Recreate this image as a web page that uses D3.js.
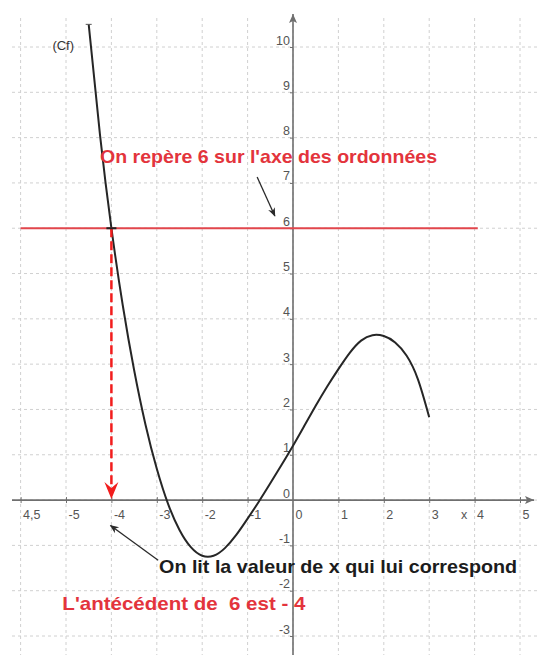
<!DOCTYPE html>
<html><head><meta charset="utf-8">
<script src="https://cdn.jsdelivr.net/npm/d3@7"></script>
<style>body{margin:0;background:#fff}svg{display:block;font-family:"Liberation Sans",Arial,sans-serif}</style>
</head><body><svg id="c" width="540" height="655"></svg>
<script>
// ---- data ----
const xTicks = [-6,-5,-4,-3,-2,-1,0,1,2,3,4,5];
const xTickLabels = ["4,5","-5","-4","-3","-2","-1","0","1","2","3","4","5"];
const yTicks = [-3,-2,-1,0,1,2,3,4,5,6,7,8,9,10];
const yTickLabels = ["-3","-2","-1","0","1","2","3","4","5","6","7","8","9","10"];
const curveX = [-4.5,-4.25,-4.0,-3.75,-3.5,-3.25,-3.0,-2.75,-2.5,-2.25,-2.0,-1.75,-1.5,-1.25,-1.0,-0.75,-0.5,-0.25,0,0.25,0.5,0.75,1.0,1.25,1.5,1.75,2.0,2.25,2.5,2.75,3.0];
const curveY = [10.5,8.05,6.0,4.3,2.87,1.67,0.69,-0.09,-0.66,-1.04,-1.23,-1.23,-1.06,-0.77,-0.41,-0.03,0.37,0.78,1.2,1.64,2.08,2.5,2.89,3.25,3.52,3.64,3.62,3.48,3.19,2.67,1.83];
const targetY = 6;
const antecedent = -4;
const hLineX = [-6, 4.07];
const curveName = "(Cf)";
const texts = [
  {t:"On repère 6 sur l'axe des ordonnées", x:-4.25, y:7.43, c:"#e3343c", w:337},
  {t:"On lit la valeur de x qui lui correspond", x:-2.95, y:-1.62, c:"#1c1c1c", w:358},
  {t:"L'antécédent de  6 est - 4", x:-5.08, y:-2.42, c:"#e3343c", w:243}
];
const arrows = [
  {x1:-0.79, y1:7.13, x2:-0.40, y2:6.27},
  {x1:-2.97, y1:-1.33, x2:-4.02, y2:-0.56}
];

// ---- scales ----
const svg = d3.select("#c");
const x = d3.scaleLinear().domain([-6,5]).range([20.6,520]);
const y = d3.scaleLinear().domain([-3,10]).range([636,47]);

const defs = svg.append("defs");
defs.append("marker").attr("id","ah").attr("viewBox","0 0 10 10").attr("refX",9).attr("refY",5)
  .attr("markerWidth",9).attr("markerHeight",9).attr("markerUnits","userSpaceOnUse").attr("orient","auto")
  .append("path").attr("d","M0,1 L10,5 L0,9 L3,5 Z").attr("fill","#2a2a2a");

// grid
const grid = svg.append("g").attr("stroke","#d0d0d0").attr("stroke-width",1).attr("stroke-dasharray","3,3");
grid.selectAll("line.v").data(xTicks).join("line").attr("class","v")
  .attr("x1",d=>x(d)).attr("x2",d=>x(d)).attr("y1",18).attr("y2",655);
grid.selectAll("line.h").data(yTicks).join("line").attr("class","h")
  .attr("x1",12).attr("x2",540).attr("y1",d=>y(d)).attr("y2",d=>y(d));

// axes lines
const axCol = "#6f6f6f";
svg.append("line").attr("x1",12).attr("x2",534).attr("y1",y(0)).attr("y2",y(0)).attr("stroke",axCol).attr("stroke-width",1.6);
svg.append("path").attr("d",`M${534},${y(0)} l-9,-4 l2,4 l-2,4 Z`).attr("fill",axCol);
svg.append("line").attr("x1",x(0)).attr("x2",x(0)).attr("y1",655).attr("y2",14).attr("stroke",axCol).attr("stroke-width",1.6);
svg.append("path").attr("d",`M${x(0)},14 l-4,9 l4,-2 l4,2 Z`).attr("fill",axCol);

// x axis ticks & labels
const gx = svg.append("g").attr("transform",`translate(0,${y(0)})`)
  .call(d3.axisBottom(x).tickValues(xTicks).tickFormat((d,i)=>xTickLabels[i]).tickSize(3).tickSizeOuter(0));
gx.select(".domain").remove();
gx.selectAll(".tick line").attr("y1",-3).attr("y2",3).attr("stroke",axCol);
gx.selectAll(".tick text").attr("x",2).attr("y",19).attr("dy",0).attr("text-anchor","start")
  .attr("fill","#555").style("font-size","12.5px").style("font-family","Liberation Sans, Arial, sans-serif");
gx.selectAll(".tick").filter(d=>d===0).select("line").remove();

// y axis ticks & labels
const gy = svg.append("g").attr("transform",`translate(${x(0)},0)`)
  .call(d3.axisLeft(y).tickValues(yTicks).tickFormat((d,i)=>yTickLabels[i]).tickSize(3).tickSizeOuter(0));
gy.select(".domain").remove();
gy.selectAll(".tick line").attr("stroke",axCol);
gy.selectAll(".tick text").attr("x",-3).attr("y",-3).attr("dy",0).attr("text-anchor","end")
  .attr("fill","#555").style("font-size","12.5px").style("font-family","Liberation Sans, Arial, sans-serif");
gy.selectAll(".tick").filter(d=>d===0).select("line").remove();

// "x" axis name
svg.append("text").attr("x",x(3.7)).attr("y",y(0)+19).attr("fill","#555").style("font-size","12.5px").text("x");

// white patch under labels
svg.append("rect").attr("x",x(-4.5)).attr("y",y(0)+6).attr("width",x(-4.05)-x(-4.5)).attr("height",17).attr("fill","#fff");

// curve
const pts = curveX.map((d,i)=>[d,curveY[i]]);
svg.append("path").datum(pts)
  .attr("d",d3.line().x(d=>x(d[0])).y(d=>y(d[1])).curve(d3.curveNatural))
  .attr("fill","none").attr("stroke","#262626").attr("stroke-width",2);
svg.append("line").attr("x1",x(curveX[0])-3).attr("x2",x(curveX[0])+3).attr("y1",y(curveY[0])).attr("y2",y(curveY[0])).attr("stroke","#555");
svg.append("text").attr("x",x(-5.3)).attr("y",y(9.93)).attr("fill","#333").style("font-size","13px").text(curveName);

// red horizontal line y=6
svg.append("line").attr("x1",x(hLineX[0])).attr("x2",x(hLineX[1])).attr("y1",y(targetY)).attr("y2",y(targetY))
  .attr("stroke","#e2464c").attr("stroke-width",2);

// red dashed vertical with arrow
svg.append("line").attr("x1",x(antecedent)).attr("x2",x(antecedent)).attr("y1",y(targetY)).attr("y2",y(0)-12)
  .attr("stroke","#f21d1d").attr("stroke-width",2.5).attr("stroke-dasharray","9,4");
svg.append("path").attr("d",`M${x(antecedent)},${y(0)-1} l-7,-17 l7,6 l7,-6 Z`).attr("fill","#f21d1d");

// intersection marker
svg.append("line").attr("x1",x(antecedent)-5).attr("x2",x(antecedent)+5).attr("y1",y(targetY)).attr("y2",y(targetY)).attr("stroke","#222").attr("stroke-width",2);

// arrows
svg.selectAll("line.arr").data(arrows).join("line").attr("class","arr")
  .attr("x1",d=>x(d.x1)).attr("y1",d=>y(d.y1)).attr("x2",d=>x(d.x2)).attr("y2",d=>y(d.y2))
  .attr("stroke","#2a2a2a").attr("stroke-width",1.3).attr("marker-end","url(#ah)");

// texts
svg.selectAll("text.ann").data(texts).join("text").attr("class","ann")
  .attr("x",d=>x(d.x)).attr("y",d=>y(d.y)).attr("fill",d=>d.c)
  .attr("textLength",d=>d.w).attr("lengthAdjust","spacingAndGlyphs")
  .style("font-size","18.5px").style("font-weight","bold").style("white-space","pre")
  .text(d=>d.t);
</script></body></html>
